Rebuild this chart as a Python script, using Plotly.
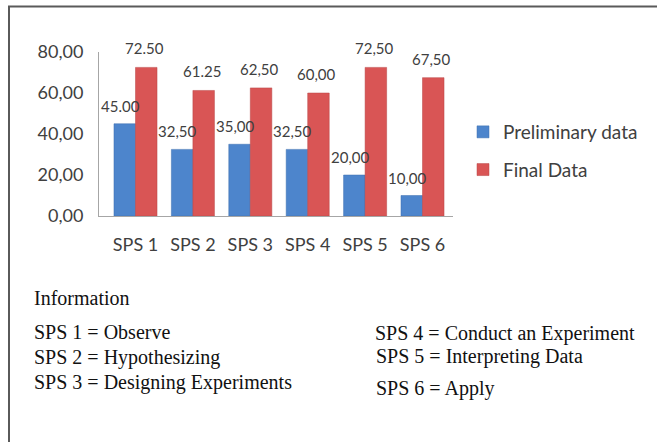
import plotly.graph_objects as go

categories = ["SPS 1", "SPS 2", "SPS 3", "SPS 4", "SPS 5", "SPS 6"]
preliminary = [45.00, 32.50, 35.00, 32.50, 20.00, 10.00]
final = [72.50, 61.25, 62.50, 60.00, 72.50, 67.50]
preliminary_labels = ["45.00", "32,50", "35,00", "32,50", "20,00", "10,00"]
final_labels = ["72.50", "61.25", "62,50", "60,00", "72,50", "67,50"]
y_ticks = [0, 20, 40, 60, 80]
y_tick_labels = ["0,00", "20,00", "40,00", "60,00", "80,00"]
info_title = "Information"
info_left = ["SPS 1 = Observe", "SPS 2 = Hypothesizing", "SPS 3 = Designing Experiments"]
info_right = ["SPS 4 = Conduct an Experiment", "SPS 5 = Interpreting Data", "SPS 6 = Apply"]

W, H = 657, 442
ML, MR, MT, MB = 99, 204, 52, 226
PW, PH = W - ML - MR, H - MT - MB


def px(x):
    return (x - ML) / PW


def py(y):
    return (H - MB - y) / PH


BLUE = "#4D85CC"
RED = "#D95555"
SANS = "Lato, Liberation Sans, sans-serif"
TICK_FONT = dict(family=SANS, size=18, color="#404040")
LABEL_FONT = dict(family=SANS, size=15, color="#404040")
SERIF = dict(family="Liberation Serif, Times New Roman, serif", size=20, color="#111111")

fig = go.Figure()
fig.add_trace(go.Bar(x=categories, y=preliminary, name="Preliminary data",
                     marker=dict(color=BLUE, line=dict(color="#3C6FAE", width=0.5)),
                     legendgroup="a"))
fig.add_trace(go.Bar(x=categories, y=final, name="Final Data",
                     marker=dict(color=RED, line=dict(color="#B84444", width=0.5)),
                     legendgroup="b"))

annotations = []
for c, v, t in zip(categories, preliminary, preliminary_labels):
    annotations.append(dict(x=c, y=v, text=t, showarrow=False, xanchor="center",
                            yanchor="bottom", xshift=-15, yshift=7, font=LABEL_FONT))
for c, v, t in zip(categories, final, final_labels):
    annotations.append(dict(x=c, y=v, text=t, showarrow=False, xanchor="center",
                            yanchor="bottom", xshift=9, yshift=8, font=LABEL_FONT))

annotations.append(dict(xref="paper", yref="paper", x=px(32), y=py(298), text=info_title,
                        showarrow=False, xanchor="left", yanchor="middle", font=SERIF))
for t, yy in zip(info_left, [332, 357, 382]):
    annotations.append(dict(xref="paper", yref="paper", x=px(32), y=py(yy), text=t,
                            showarrow=False, xanchor="left", yanchor="middle", font=SERIF))
for t, xx, yy in zip(info_right, [373, 374, 374], [333, 356, 388]):
    annotations.append(dict(xref="paper", yref="paper", x=px(xx), y=py(yy), text=t,
                            showarrow=False, xanchor="left", yanchor="middle", font=SERIF))

frame = dict(color="#5A5A5A", width=2)
fig.update_layout(
    width=W, height=H,
    margin=dict(l=ML, r=MR, t=MT, b=MB, pad=0, autoexpand=False),
    paper_bgcolor="white", plot_bgcolor="white",
    barmode="group", bargap=0.25, bargroupgap=0,
    showlegend=True,
    legend=dict(x=px(463), y=py(113), xanchor="left", yanchor="top",
                font=dict(family=SANS, size=19, color="#404040"),
                tracegroupgap=10, bgcolor="rgba(0,0,0,0)", itemwidth=30),
    xaxis=dict(showline=True, linecolor="#A6A6A6", linewidth=1, ticks="", automargin=False,
               tickfont=TICK_FONT, showgrid=False, zeroline=False, ticklabelstandoff=12),
    yaxis=dict(range=[0, 80], tickvals=y_ticks, ticktext=y_tick_labels, showline=True,
               automargin=False,
               linecolor="#A6A6A6", linewidth=1, ticks="", showgrid=False, zeroline=False,
               tickfont=TICK_FONT, ticklabelstandoff=11),
    annotations=annotations,
    shapes=[
        dict(type="line", xref="paper", yref="paper", x0=px(8), y0=py(6.5),
             x1=px(657), y1=py(6.5), line=frame),
        dict(type="line", xref="paper", yref="paper", x0=px(9), y0=py(6),
             x1=px(9), y1=py(442), line=frame),
    ],
)

post = "document.body.style.margin='0px';document.body.style.overflow='hidden';"
fig.write_html("out.html", post_script=post, config={"displayModeBar": False})
